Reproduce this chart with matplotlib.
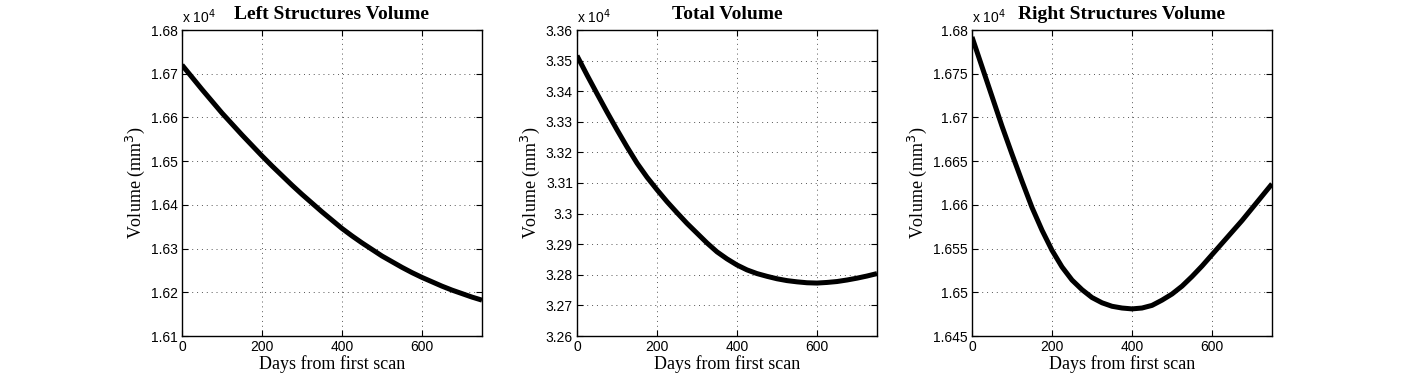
import matplotlib
matplotlib.use("Agg")
import matplotlib.pyplot as plt
from matplotlib.ticker import FuncFormatter

# days from first scan
days = [0, 25, 50, 75, 100, 125, 150, 175, 200, 225, 250, 275, 300, 325, 350, 375,
        400, 425, 450, 475, 500, 525, 550, 575, 600, 625, 650, 675, 700, 725, 750]

# volumes in mm^3
left_vol = [16720, 16692, 16664, 16637, 16610, 16585, 16560, 16536, 16512, 16489,
            16467, 16445, 16424, 16404, 16384, 16365, 16346, 16329, 16313, 16298,
            16283, 16270, 16257, 16245, 16234, 16224, 16214, 16205, 16197, 16189, 16182]
total_vol = [33516, 33453, 33392, 33332, 33274, 33218, 33165, 33119, 33078, 33039,
             33003, 32968, 32936, 32904, 32875, 32852, 32832, 32816, 32804, 32795,
             32787, 32781, 32777, 32774, 32773, 32775, 32778, 32783, 32789, 32796, 32804]
right_vol = [16792, 16758, 16724, 16690, 16658, 16627, 16597, 16571, 16548, 16529,
             16514, 16503, 16494, 16488, 16484, 16482, 16481, 16482, 16485, 16491,
             16498, 16507, 16518, 16530, 16543, 16556, 16569, 16582, 16596, 16610, 16624]

titles = ['Left Structures Volume', 'Total Volume', 'Right Structures Volume']
ylims = [(16100, 16800), (32600, 33600), (16450, 16800)]
ysteps = [100, 100, 50]
xticks = [0, 200, 400, 600]

serif = ['Liberation Serif', 'DejaVu Serif']
sans = ['Liberation Sans', 'DejaVu Sans']
plt.rcParams['font.family'] = sans

W, H = 1404, 379
fig = plt.figure(figsize=(W / 100, H / 100), dpi=100)
lefts = [182, 577, 972]
top, bottom = 30, 336

series = [left_vol, total_vol, right_vol]
for i in range(3):
    ax = fig.add_axes([lefts[i] / W, (H - bottom) / H, 300 / W, (bottom - top) / H])
    ax.plot(days, series[i], color='black', lw=3.6, solid_capstyle='butt')
    ax.set_xlim(0, 750)
    lo, hi = ylims[i]
    ax.set_ylim(lo, hi)
    ax.set_xticks(xticks)
    ax.set_yticks(range(lo, hi + 1, ysteps[i]))
    ax.yaxis.set_major_formatter(FuncFormatter(lambda v, p: '%g' % round(v / 1e4, 4)))
    ax.tick_params(direction='in', top=True, right=True, labelsize=10, length=4, width=0.8, pad=3)
    ax.grid(True, linestyle=(0, (1, 4)), color='#555555', linewidth=0.7)
    for s in ax.spines.values():
        s.set_linewidth(1.0)
    ax.set_title(titles[i], family=serif, fontweight='bold', fontsize=14, pad=8)
    ax.set_xlabel('Days from first scan', family=serif, fontsize=13, labelpad=1)
    ax.set_ylabel('Volume (mm$^3$)', family=serif, fontsize=13, labelpad=3)
    ax.text(0.0, 1.012, 'x 10$^4$', transform=ax.transAxes, fontsize=10,
            ha='left', va='bottom')

fig.savefig('out.png', dpi=100)
